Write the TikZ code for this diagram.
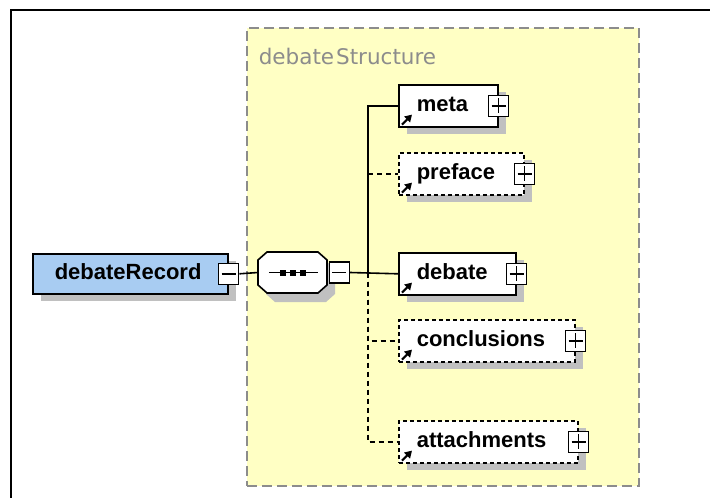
\documentclass[tikz,border=0pt]{standalone}
\usepackage{fontspec}
\setmainfont{Liberation Sans}
\newfontfamily\labelfont{DejaVu Sans}
\usetikzlibrary{shadows,arrows.meta}
\definecolor{recblue}{HTML}{A8CCF2}
\definecolor{groupyellow}{HTML}{FFFFC4}
\definecolor{shadowgray}{HTML}{C0C0C0}
\definecolor{groupgray}{HTML}{8C8C8C}
\begin{document}
\begin{tikzpicture}[x=1pt, y=-1pt, line width=1.6pt,
    elem/.style={rectangle, draw, fill=white, anchor=north west, minimum height=42pt, inner xsep=18pt, inner ysep=0pt, text width=#1, text height=16pt, text depth=5pt, align=left, font=\fontsize{22pt}{26pt}\selectfont\bfseries, general shadow={shadow xshift=8pt, shadow yshift=-7pt, fill=shadowgray}},
    optelem/.style={elem=#1, dash pattern=on 4pt off 3pt},
    rootbox/.style={elem=#1, fill=recblue, minimum height=40pt, inner xsep=22pt},
    togglebox/.style={rectangle, draw, fill=white, minimum width=20pt, minimum height=21pt, inner sep=0pt},
    plusbox/.style={togglebox, path picture={\draw ([xshift=3pt]path picture bounding box.west) -- ([xshift=-3pt]path picture bounding box.east) ([yshift=-3pt]path picture bounding box.north) -- ([yshift=3pt]path picture bounding box.south);}},
    minusbox/.style={togglebox, path picture={\draw ([xshift=3pt]path picture bounding box.west) -- ([xshift=-3pt]path picture bounding box.east);}},
    seqbox/.style={rectangle, minimum width=69pt, minimum height=41pt, inner sep=0pt},
    groupbox/.style={rectangle, draw=groupgray, fill=groupyellow, line width=1.5pt, dash pattern=on 10pt off 5pt, anchor=north west, minimum width=392pt, minimum height=458pt, inner sep=0pt},
    optline/.style={dash pattern=on 5pt off 4pt}]
    \useasboundingbox (0,0) rectangle (710,498);

    % group of the sequence
    \node[groupbox] at (246, 27) (group) {};
    \node[anchor=north west, inner sep=0pt, text=groupgray, font=\labelfont\fontsize{21.5pt}{24pt}\selectfont] at (258, 47) (grouplabel) {debate\kern2pt Structure};

    % root element and sequence
    \node[rootbox=151pt] at (32, 253) (rec) {debateRecord};
    \node[minusbox] at (rec.east) (recminus) {};
    \fill[shadowgray, shift={(8,9)}] (267,252) -- (318,252) -- (327,260) -- (327,285) -- (318,293) -- (267,293) -- (258,285) -- (258,260) -- cycle;
    \filldraw[fill=white] (267,252) -- (318,252) -- (327,260) -- (327,285) -- (318,293) -- (267,293) -- (258,285) -- (258,260) -- cycle;
    \node[seqbox, anchor=west] at (258, 272.5) (seq) {};
    \node[minusbox, anchor=west] at (seq.east) (seqminus) {};
    \draw ([xshift=-24.5pt]seq.center) -- ([xshift=24.5pt]seq.center);
    \foreach \dx in {-10,0,10}
        \fill ([xshift=\dx pt]seq.center) +(-3pt,-3pt) rectangle +(3pt,3pt);

    % children
    \node[elem=63pt] at (398, 84) (meta) {meta};
    \node[optelem=89pt] at (398, 152) (preface) {preface};
    \node[elem=81pt] at (398, 252) (debate) {debate};
    \node[optelem=140pt] at (398, 319) (conclusions) {conclusions};
    \node[optelem=143pt] at (398, 420) (attachments) {attachments};

    \foreach \n in {meta,preface,debate,conclusions,attachments} {
        \node[plusbox] at (\n.east) (\n plus) {};
        \draw[line width=2.2pt, -{Triangle[length=7pt,width=8pt]}] ([xshift=4pt,yshift=3pt]\n.south west) -- ++(10pt,10pt);
    }

    % connectors
    \coordinate (fork) at (368, 272.5);
    \draw (recminus.east) -- (seq.west);
    \draw (seqminus.east) -- (debate.west);
    \draw (fork) |- (meta.west);
    \draw[optline] (fork) |- (preface.west);
    \draw[optline] (fork) |- (conclusions.west);
    \draw[optline] (fork) |- (attachments.west);

    % frame
    \draw[line width=2.5pt] (11, 498) -- (11, 10) -- (710, 10);
\end{tikzpicture}
\end{document}
